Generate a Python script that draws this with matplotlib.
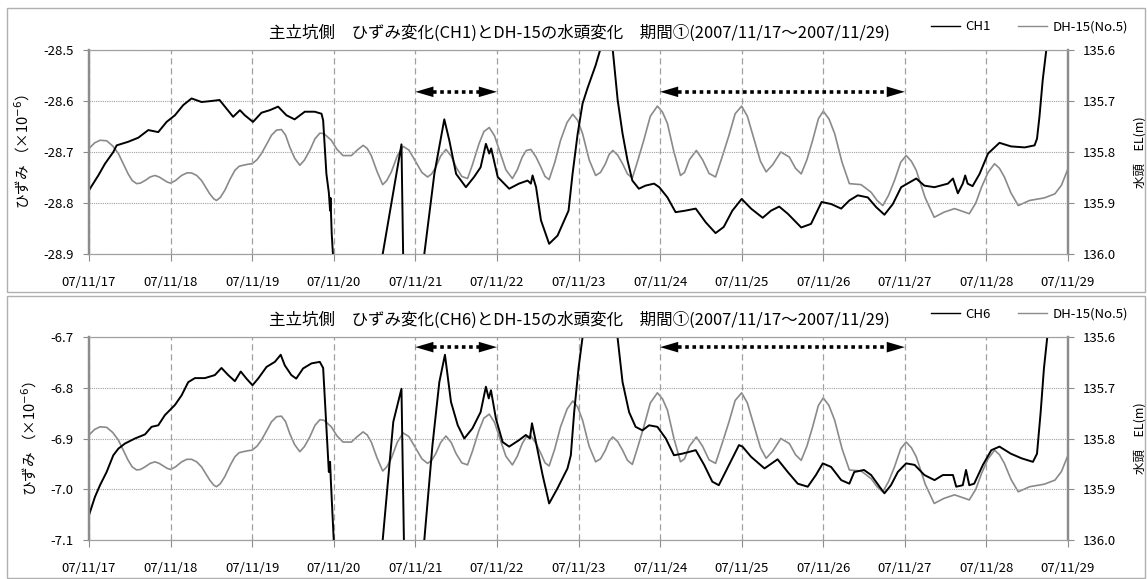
import matplotlib
matplotlib.use('Agg')
import matplotlib.pyplot as plt
from matplotlib.patches import Rectangle
from matplotlib.lines import Line2D
from matplotlib.ticker import FormatStrFormatter

plt.rcParams['font.family'] = ['Noto Sans CJK JP', 'DejaVu Sans']
plt.rcParams['axes.unicode_minus'] = False

# ---- data (time in days from 2007/11/17 00:00) ----
day_labels = ['07/11/17', '07/11/18', '07/11/19', '07/11/20', '07/11/21',
              '07/11/22', '07/11/23', '07/11/24', '07/11/25', '07/11/26',
              '07/11/27', '07/11/28', '07/11/29']

# DH-15(No.5) water head EL(m)
dh15_days = [0.0, 0.07, 0.135, 0.216, 0.29, 0.36, 0.42, 0.48, 0.53, 0.584,
             0.63, 0.686, 0.75, 0.808, 0.86, 0.91, 0.96, 1.0, 1.06, 1.135,
             1.2, 1.257, 1.32, 1.38, 1.43, 1.48, 1.53, 1.563, 1.61, 1.665,
             1.73, 1.788, 1.84, 1.89, 1.95, 2.0, 2.06, 2.114, 2.18, 2.237,
             2.30, 2.359, 2.41, 2.46, 2.52, 2.584, 2.64, 2.706, 2.77, 2.83,
             2.88, 2.97, 3.04, 3.114, 3.216, 3.29, 3.36, 3.41, 3.46, 3.53,
             3.6, 3.65, 3.706, 3.78, 3.85, 3.92, 3.99, 4.08, 4.15, 4.2,
             4.25, 4.31, 4.375, 4.44, 4.5, 4.57, 4.64, 4.70, 4.78, 4.84,
             4.906, 4.97, 5.03, 5.11, 5.19, 5.25, 5.31, 5.36, 5.416, 5.48,
             5.54, 5.59, 5.64, 5.71, 5.78, 5.86, 5.93, 5.99, 6.05, 6.13,
             6.21, 6.27, 6.33, 6.375, 6.42, 6.48, 6.54, 6.60, 6.66, 6.73,
             6.80, 6.88, 6.967, 7.03, 7.09, 7.17, 7.25, 7.30, 7.36, 7.445,
             7.52, 7.60, 7.68, 7.76, 7.845, 7.92, 8.0, 8.07, 8.155, 8.23,
             8.3, 8.38, 8.48, 8.585, 8.66, 8.73, 8.80, 8.87, 8.94, 9.0,
             9.07, 9.14, 9.23, 9.32, 9.464, 9.587, 9.66, 9.73, 9.80, 9.873,
             9.95, 10.016, 10.08, 10.14, 10.25, 10.36, 10.48, 10.61, 10.79, 10.87,
             10.94, 11.02, 11.1, 11.16, 11.22, 11.30, 11.39, 11.53, 11.71, 11.84,
             11.92, 11.96, 12.0]
dh15_head = [135.793, 135.782, 135.777, 135.778, 135.788, 135.803, 135.823, 135.843, 135.856, 135.862,
             135.861, 135.856, 135.849, 135.846, 135.849, 135.854, 135.859, 135.861, 135.856, 135.846,
             135.841, 135.841, 135.846, 135.856, 135.869, 135.882, 135.892, 135.895, 135.889, 135.875,
             135.853, 135.836, 135.828, 135.826, 135.824, 135.823, 135.815, 135.803, 135.784, 135.767,
             135.757, 135.756, 135.767, 135.790, 135.812, 135.826, 135.816, 135.797, 135.774, 135.763,
             135.764, 135.777, 135.795, 135.807, 135.807, 135.796, 135.787, 135.793, 135.807, 135.838,
             135.864, 135.856, 135.839, 135.807, 135.789, 135.796, 135.815, 135.840, 135.849, 135.843,
             135.830, 135.808, 135.795, 135.808, 135.830, 135.848, 135.852, 135.825, 135.784, 135.760,
             135.752, 135.768, 135.797, 135.835, 135.852, 135.835, 135.810, 135.797, 135.795, 135.810,
             135.830, 135.848, 135.854, 135.820, 135.777, 135.742, 135.726, 135.738, 135.764, 135.815,
             135.846, 135.840, 135.823, 135.805, 135.797, 135.806, 135.823, 135.843, 135.851, 135.815,
             135.777, 135.730, 135.710, 135.722, 135.744, 135.800, 135.846, 135.840, 135.815, 135.797,
             135.815, 135.842, 135.849, 135.810, 135.767, 135.725, 135.710, 135.730, 135.777, 135.818,
             135.839, 135.825, 135.800, 135.810, 135.832, 135.843, 135.815, 135.777, 135.735, 135.720,
             135.735, 135.764, 135.820, 135.862, 135.864, 135.879, 135.895, 135.905, 135.885, 135.856,
             135.820, 135.807, 135.818, 135.836, 135.890, 135.928, 135.918, 135.911, 135.921, 135.900,
             135.869, 135.840, 135.823, 135.832, 135.849, 135.880, 135.905, 135.895, 135.890, 135.882,
             135.865, 135.849, 135.833]

# CH1 strain (x10^-6)
ch1_days = [0.0, 0.114, 0.196, 0.298, 0.339, 0.48, 0.604, 0.727, 0.849, 0.951,
            1.053, 1.155, 1.257, 1.38, 1.5, 1.6, 1.686, 1.767, 1.85, 1.91,
            2.01, 2.114, 2.216, 2.318, 2.42, 2.52, 2.645, 2.767, 2.85, 2.87,
            2.91, 2.94, 2.955, 2.96, 2.975, 2.99, 3.02, 3.3, 3.55, 3.6,
            3.83, 3.86, 3.9, 4.05, 4.11, 4.233, 4.355, 4.416, 4.5, 4.62,
            4.72, 4.8, 4.865, 4.906, 4.93, 5.01, 5.15, 5.27, 5.376, 5.416,
            5.437, 5.48, 5.54, 5.64, 5.743, 5.878, 5.927, 5.99, 6.05, 6.11,
            6.21, 6.265, 6.34, 6.42, 6.48, 6.54, 6.6, 6.66, 6.74, 6.82,
            6.926, 6.99, 7.09, 7.19, 7.31, 7.437, 7.56, 7.68, 7.78, 7.886,
            8.0, 8.115, 8.258, 8.36, 8.46, 8.565, 8.73, 8.85, 8.98, 9.096,
            9.22, 9.32, 9.423, 9.546, 9.648, 9.75, 9.853, 9.955, 10.14, 10.24,
            10.364, 10.528, 10.59, 10.65, 10.71, 10.74, 10.77, 10.83, 10.916, 11.02,
            11.16, 11.3, 11.47, 11.59, 11.62, 11.65, 11.69, 11.734, 11.8]
ch1_strain = [-28.775, -28.746, -28.723, -28.700, -28.687, -28.680, -28.672, -28.657, -28.661, -28.641,
              -28.628, -28.608, -28.595, -28.602, -28.600, -28.598, -28.615, -28.631, -28.618, -28.628,
              -28.641, -28.623, -28.618, -28.611, -28.628, -28.636, -28.621, -28.621, -28.625, -28.638,
              -28.743, -28.780, -28.815, -28.790, -28.860, -28.900, -29.000, -29.300, -29.000, -28.900,
              -28.685, -29.000, -29.300, -29.300, -28.900, -28.743, -28.636, -28.677, -28.743, -28.769,
              -28.749, -28.730, -28.684, -28.703, -28.693, -28.749, -28.772, -28.762, -28.756, -28.762,
              -28.746, -28.769, -28.834, -28.880, -28.864, -28.815, -28.743, -28.664, -28.605, -28.575,
              -28.530, -28.500, -28.420, -28.500, -28.598, -28.664, -28.716, -28.756, -28.772, -28.766,
              -28.762, -28.769, -28.789, -28.818, -28.815, -28.811, -28.838, -28.859, -28.847, -28.815,
              -28.792, -28.811, -28.829, -28.815, -28.807, -28.821, -28.848, -28.841, -28.798, -28.802,
              -28.811, -28.795, -28.785, -28.789, -28.808, -28.823, -28.802, -28.769, -28.752, -28.766,
              -28.769, -28.762, -28.752, -28.781, -28.762, -28.746, -28.762, -28.767, -28.743, -28.703,
              -28.682, -28.689, -28.691, -28.687, -28.674, -28.631, -28.559, -28.500, -28.400]

# CH6 strain (x10^-6)
ch6_days = [0.0, 0.073, 0.135, 0.216, 0.298, 0.36, 0.44, 0.563, 0.686, 0.767,
            0.849, 0.93, 1.053, 1.135, 1.216, 1.298, 1.42, 1.543, 1.624, 1.706,
            1.788, 1.86, 1.93, 2.004, 2.073, 2.176, 2.278, 2.35, 2.4, 2.48,
            2.54, 2.624, 2.727, 2.829, 2.87, 2.91, 2.94, 2.955, 2.965, 3.0,
            3.03, 3.3, 3.55, 3.6, 3.73, 3.83, 3.86, 3.9, 4.05, 4.11,
            4.21, 4.294, 4.363, 4.437, 4.52, 4.6, 4.7, 4.8, 4.865, 4.9,
            4.927, 4.988, 5.07, 5.15, 5.273, 5.355, 5.404, 5.43, 5.478, 5.56,
            5.64, 5.743, 5.865, 5.906, 5.947, 6.0, 6.05, 6.25, 6.478, 6.54,
            6.62, 6.7, 6.784, 6.865, 6.967, 7.07, 7.17, 7.27, 7.437, 7.54,
            7.64, 7.72, 7.845, 7.967, 8.01, 8.115, 8.28, 8.44, 8.565, 8.687,
            8.81, 8.91, 8.994, 9.096, 9.22, 9.32, 9.38, 9.5, 9.587, 9.69,
            9.75, 9.83, 9.914, 10.016, 10.12, 10.24, 10.364, 10.466, 10.59, 10.63,
            10.71, 10.75, 10.79, 10.85, 10.957, 11.06, 11.16, 11.3, 11.43, 11.57,
            11.62, 11.665, 11.705, 11.746, 11.8]
ch6_strain = [-7.051, -7.015, -6.992, -6.966, -6.933, -6.920, -6.910, -6.900, -6.892, -6.877,
              -6.874, -6.854, -6.834, -6.815, -6.789, -6.781, -6.781, -6.775, -6.761, -6.775,
              -6.787, -6.768, -6.782, -6.795, -6.782, -6.759, -6.749, -6.735, -6.756, -6.775,
              -6.782, -6.762, -6.752, -6.749, -6.761, -6.880, -6.966, -6.946, -6.985, -7.100,
              -7.200, -7.400, -7.200, -7.100, -6.867, -6.802, -7.100, -7.400, -7.400, -7.100,
              -6.913, -6.789, -6.735, -6.828, -6.874, -6.900, -6.880, -6.848, -6.798, -6.821,
              -6.805, -6.861, -6.907, -6.916, -6.903, -6.893, -6.900, -6.870, -6.907, -6.972,
              -7.028, -6.998, -6.959, -6.933, -6.848, -6.762, -6.700, -6.550, -6.700, -6.789,
              -6.848, -6.877, -6.884, -6.874, -6.877, -6.900, -6.933, -6.930, -6.923, -6.952,
              -6.985, -6.992, -6.952, -6.913, -6.916, -6.936, -6.959, -6.941, -6.966, -6.989,
              -6.995, -6.972, -6.949, -6.956, -6.982, -6.989, -6.966, -6.962, -6.972, -6.995,
              -7.008, -6.992, -6.966, -6.949, -6.952, -6.972, -6.982, -6.972, -6.972, -6.995,
              -6.992, -6.962, -6.992, -6.989, -6.952, -6.923, -6.916, -6.930, -6.939, -6.946,
              -6.930, -6.848, -6.762, -6.700, -6.600]

ch1_ticks = [-28.9, -28.8, -28.7, -28.6, -28.5]
ch6_ticks = [-7.1, -7.0, -6.9, -6.8, -6.7]
head_ticks = [135.6, 135.7, 135.8, 135.9, 136.0]

W, H = 1147, 579
fig = plt.figure(figsize=(W / 100, H / 100), dpi=100)


def fx(px):
    return px / W


def fy(py):
    return 1 - py / H


GRID = '#a0a0a0'
SPINE = '#8c8c8c'


def draw_arrow(ax, x0, x1, y):
    head = 0.22
    style = '-|>,head_length=1.3,head_width=0.38'
    for tip, base in ((x0, x0 + head), (x1, x1 - head)):
        ax.annotate('', xy=(tip, y), xytext=(base, y),
                    arrowprops=dict(arrowstyle=style, color='black', lw=0.01,
                                    mutation_scale=10, shrinkA=0, shrinkB=0))
    ax.plot([x0 + head, x1 - head], [y, y], color='black', lw=2.6,
            linestyle=(0, (1, 1)), solid_capstyle='butt', zorder=5)


def panel(top_px, bottom_px, frame, ch_name, days, strain, ticks, arrow_y):
    fig.add_artist(Rectangle((fx(frame[0]), fy(frame[3])),
                             fx(frame[2]) - fx(frame[0]), fy(frame[1]) - fy(frame[3]),
                             transform=fig.transFigure, fill=False,
                             edgecolor='#b0b0b0', lw=1.0))
    ax = fig.add_axes([fx(89), fy(bottom_px), fx(1068) - fx(89), fy(top_px) - fy(bottom_px)])
    ax2 = ax.twinx()
    ax.set_zorder(ax2.get_zorder() + 1)
    ax.patch.set_visible(False)

    ax2.plot(dh15_days, dh15_head, color='#8a8a8a', lw=1.2)
    ax.plot(days, strain, color='black', lw=1.4)

    ax.set_xlim(0, 12)
    ax.set_ylim(ticks[0], ticks[-1])
    ax2.set_ylim(head_ticks[-1], head_ticks[0])
    ax.set_yticks(ticks)
    ax2.set_yticks(head_ticks)
    ax.yaxis.set_major_formatter(FormatStrFormatter('%.1f'))
    ax2.yaxis.set_major_formatter(FormatStrFormatter('%.1f'))
    ax.set_xticks(range(len(day_labels)))
    ax.set_xticklabels(day_labels)

    ax.grid(axis='y', color=GRID, lw=0.8, linestyle=(0, (1, 1)))
    ax.grid(axis='x', color=GRID, lw=0.9, linestyle=(0, (5, 3)))

    for a in (ax, ax2):
        for s in ('top', 'bottom'):
            a.spines[s].set_color(GRID)
            a.spines[s].set_linewidth(0.8)
        a.spines['left'].set_color(SPINE)
        a.spines['left'].set_linewidth(1.6)
        a.spines['right'].set_color(SPINE)
        a.spines['right'].set_linewidth(1.6)

    ax.tick_params(axis='x', length=5, width=0.8, color=SPINE, pad=11, labelsize=9.5)
    ax.tick_params(axis='y', length=4, width=0.8, color=SPINE, pad=7, labelsize=9.5)
    ax2.tick_params(axis='y', length=4, width=0.8, color=SPINE, pad=7, labelsize=9.5)

    ax.set_ylabel('ひずみ （×10$^{-6}$）', fontsize=10.5, labelpad=8)
    ax2.set_ylabel('水頭　EL(m)', fontsize=9, labelpad=12)

    draw_arrow(ax, 4.0, 5.0, arrow_y)
    draw_arrow(ax, 7.0, 10.0, arrow_y)

    fig.text(fx(579), fy(top_px - 17),
             '主立坑側　ひずみ変化(%s)とDH-15の水頭変化　期間①(2007/11/17～2007/11/29)' % ch_name,
             ha='center', va='center', fontsize=11.9)

    handles = [Line2D([], [], color='black', lw=1.0),
               Line2D([], [], color='#8a8a8a', lw=1.0)]
    ax.legend(handles, [ch_name, 'DH-15(No.5)'], loc='center right',
              bbox_to_anchor=(fx(1128), fy(top_px - 23)), bbox_transform=fig.transFigure,
              ncol=2, frameon=False, fontsize=9.5, handlelength=2.2,
              handletextpad=0.4, columnspacing=2.1, borderaxespad=0, borderpad=0)
    return ax


panel(50, 254, (7, 8, 1145, 292), 'CH1', ch1_days, ch1_strain, ch1_ticks, -28.582)
panel(337, 540, (7, 296, 1145, 578), 'CH6', ch6_days, ch6_strain, ch6_ticks, -6.720)

fig.savefig('out.png', dpi=100)
